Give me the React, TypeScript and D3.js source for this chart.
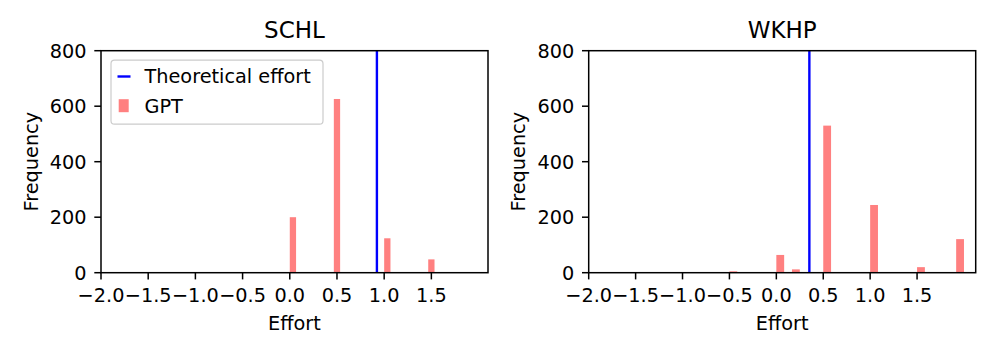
import React from 'react'
import * as d3 from 'd3'

// histogram bins (left edge of each bin) and their counts
const schlBinStarts = [0.0, 0.4667, 1.0, 1.4667]
const schlCounts = [200, 626, 124, 48]
const schlBinWidth = 2 / 30
const schlTheoretical = 0.923

const wkhpBinStarts = [-0.5, 0.0, 0.1667, 0.5, 1.0, 1.5, 1.9167]
const wkhpCounts = [5, 64, 12, 530, 244, 20, 121]
const wkhpBinWidth = 2.5 / 30
const wkhpTheoretical = 0.352

const xTicks = [-2, -1.5, -1, -0.5, 0, 0.5, 1, 1.5]
const yTicks = [0, 200, 400, 600, 800]

const FONT = '"DejaVu Sans", sans-serif'
const BAR = '#ff8080'
const LINE = '#0000ff'

type PanelProps = {
  title: string
  left: number
  xMax: number
  starts: number[]
  counts: number[]
  binWidth: number
  theoretical: number
  legend?: boolean
}

function Panel({ title, left, xMax, starts, counts, binWidth, theoretical, legend }: PanelProps) {
  const top = 50.7
  const width = 387
  const height = 222
  const x = d3.scaleLinear().domain([-2, xMax]).range([left, left + width])
  const y = d3.scaleLinear().domain([0, 800]).range([top + height, top])
  const fmt = d3.format('.1f')
  const tickLen = 6.7

  return (
    <g fontFamily={FONT}>
      {/* bars */}
      {starts.map((s, i) => (
        <rect
          key={i}
          x={x(s)}
          y={y(counts[i])}
          width={x(s + binWidth) - x(s)}
          height={y(0) - y(counts[i])}
          fill={BAR}
        />
      ))}
      {/* theoretical effort */}
      <line x1={x(theoretical)} x2={x(theoretical)} y1={top} y2={top + height} stroke={LINE} strokeWidth={2.4} />
      {/* frame */}
      <rect x={left} y={top} width={width} height={height} fill="none" stroke="#000" strokeWidth={1.5} />
      {/* x ticks */}
      {xTicks.map((t) => (
        <g key={t}>
          <line x1={x(t)} x2={x(t)} y1={top + height} y2={top + height + tickLen} stroke="#000" strokeWidth={1.5} />
          <text x={x(t)} y={top + height + 29.5} textAnchor="middle" fontSize={19.3}>
            {fmt(t)}
          </text>
        </g>
      ))}
      {/* y ticks */}
      {yTicks.map((t) => (
        <g key={t}>
          <line x1={left - tickLen} x2={left} y1={y(t)} y2={y(t)} stroke="#000" strokeWidth={1.5} />
          <text x={left - 14.5} y={y(t)} dy="0.36em" textAnchor="end" fontSize={19.3}>
            {t}
          </text>
        </g>
      ))}
      <text x={left + width / 2} y={38.3} textAnchor="middle" fontSize={23}>
        {title}
      </text>
      <text x={left + width / 2} y={330} textAnchor="middle" fontSize={19.3}>
        Effort
      </text>
      <text
        transform={`translate(${left - 63.5},${top + height / 2}) rotate(-90)`}
        textAnchor="middle"
        fontSize={19.3}
      >
        Frequency
      </text>
      {legend && (
        <g>
          <rect x={left + 10} y={top + 9.5} width={212} height={64} rx={3.5} fill="#fff" fillOpacity={0.8} stroke="#cccccc" strokeWidth={1.2} />
          <line x1={left + 16.5} x2={left + 29.5} y1={top + 25.8} y2={top + 25.8} stroke={LINE} strokeWidth={2.4} />
          <text x={left + 43.5} y={top + 25.8} dy="0.36em" fontSize={19.3}>
            Theoretical effort
          </text>
          <rect x={left + 17.7} y={top + 48.5} width={10} height={13} fill={BAR} />
          <text x={left + 43.5} y={top + 55} dy="0.36em" fontSize={19.3}>
            GPT
          </text>
        </g>
      )}
    </g>
  )
}

export default function App() {
  return (
    <svg width={997} height={356} style={{ position: 'absolute', left: 0, top: 0, background: '#fff' }}>
      <rect width={997} height={356} fill="#fff" />
      <Panel
        title="SCHL"
        left={101}
        xMax={2.1}
        starts={schlBinStarts}
        counts={schlCounts}
        binWidth={schlBinWidth}
        theoretical={schlTheoretical}
        legend
      />
      <Panel
        title="WKHP"
        left={588.7}
        xMax={2.125}
        starts={wkhpBinStarts}
        counts={wkhpCounts}
        binWidth={wkhpBinWidth}
        theoretical={wkhpTheoretical}
      />
    </svg>
  )
}
